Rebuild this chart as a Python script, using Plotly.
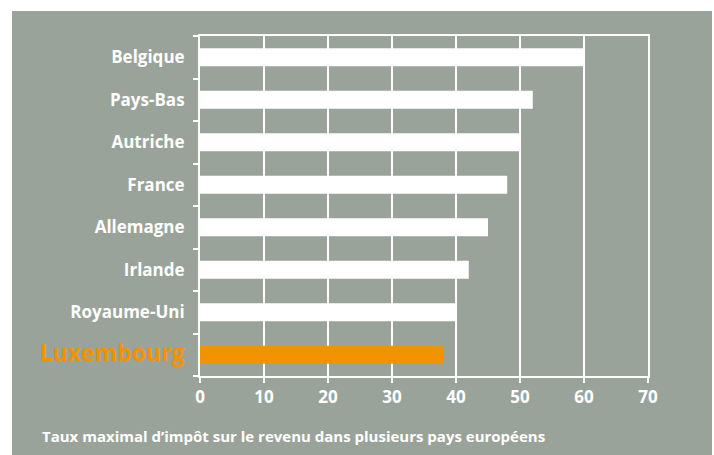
import plotly.graph_objects as go

countries = ["Belgique", "Pays-Bas", "Autriche", "France", "Allemagne", "Irlande", "Royaume-Uni", "Luxembourg"]
rates = [60, 52, 50, 48, 45, 42, 40, 38]
x_ticks = [0, 10, 20, 30, 40, 50, 60, 70]
caption = "Taux maximal d\u2019impôt sur le revenu dans plusieurs pays européens"

GRAY = "#9AA39A"
ORANGE = "#F39200"
FONT = "Open Sans"

colors = [ORANGE if c == "Luxembourg" else "white" for c in countries]
ticktext = [
    f'<span style="color:{ORANGE};font-size:23px">{c}</span>' if c == "Luxembourg" else c
    for c in countries
]

fig = go.Figure(go.Bar(
    x=rates, y=countries, orientation="h",
    marker=dict(color=colors, line=dict(width=0)),
    width=0.42,
))

W, H = 714, 455
L, T = 200, 36
pw, ph = 448, 340
R, B = W - L - pw, H - T - ph

def px_to_paper_x(px):
    return (px - L) / pw

def px_to_paper_y(py):
    return (T + ph - py) / ph

fig.add_shape(type="rect", xref="paper", yref="paper", layer="below",
              x0=px_to_paper_x(12), x1=px_to_paper_x(712),
              y0=px_to_paper_y(460), y1=px_to_paper_y(11),
              fillcolor=GRAY, line=dict(width=0))

fig.add_annotation(text=f"<b>{caption}</b>", xref="paper", yref="paper",
                   x=px_to_paper_x(40), y=px_to_paper_y(436),
                   xanchor="left", yanchor="middle", showarrow=False,
                   font=dict(family=FONT, size=15, color="white"))

fig.update_layout(
    width=W, height=H,
    margin=dict(l=L, r=R, t=T, b=B, pad=0),
    paper_bgcolor="white", plot_bgcolor=GRAY,
    showlegend=False,
    font=dict(family=FONT, color="white"),
    xaxis=dict(range=[0, 70], tickvals=x_ticks, ticks="outside", ticklen=5,
               tickcolor="white", tickwidth=2, showgrid=True, gridcolor="white",
               gridwidth=2, showline=True, linecolor="white", linewidth=2,
               mirror=True, zeroline=False,
               tickfont=dict(family=FONT, size=17, color="white", weight="bold")),
    yaxis=dict(type="category", categoryorder="array", categoryarray=countries,
               autorange="reversed", tickvals=countries, ticktext=ticktext,
               tickson="boundaries", ticks="outside", ticklen=5,
               tickcolor="white", tickwidth=2, showgrid=False,
               showline=True, linecolor="white", linewidth=2, mirror=True,
               ticklabelstandoff=10,
               tickfont=dict(family=FONT, size=17, color="white", weight="bold")),
)

fig.write_html(
    "out.html",
    config={"displayModeBar": False},
    post_script="document.body.style.margin='0';document.body.style.overflow='hidden';",
)
